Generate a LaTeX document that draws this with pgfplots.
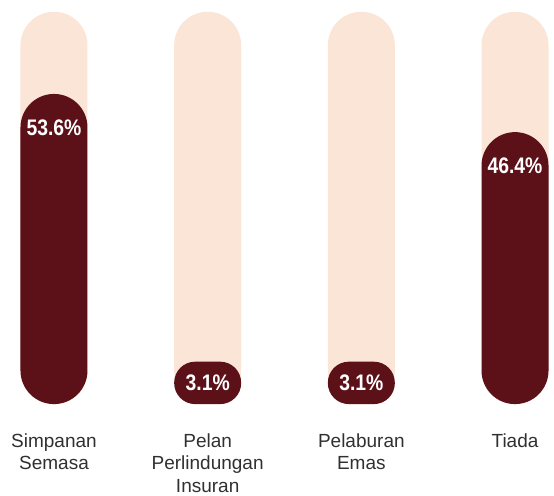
\documentclass[border=0pt]{standalone}
\usepackage{fontspec}
\setmainfont{Liberation Sans}
\newfontfamily\narrowb{Liberation Sans}[FakeStretch=0.86]
\usepackage{pgfplots}
\pgfplotsset{compat=1.18}
\usepackage{pgfplotstable}
\definecolor{peach}{HTML}{FBE5D6}
\definecolor{maroonbar}{HTML}{5C1018}
\definecolor{labgray}{HTML}{303030}
\pgfplotstableread{
x v
0 53.6
3 46.4
}\bigbars
\pgfplotstableread{
x v
1 3.1
2 3.1
}\smallbars
\pgfplotstableread{
x track
0 74
1 74
2 74
3 74
}\tracks
\begin{document}
\begin{tikzpicture}
\begin{axis}[
 scale only axis, width=554pt, height=404pt,
 xmin=-0.3513, xmax=3.2537, ymin=0, ymax=76.2,
 axis line style={draw=none},
 ytick=\empty,
 xtick={0,1,2,3},
 xticklabels={{Simpanan\\Semasa},{Pelan\\Perlindungan\\Insuran},{Pelaburan\\Emas},{Tiada}},
 major tick length=0pt,
 xticklabel style={align=center, font=\fontsize{19}{22.5}\selectfont, text=labgray, anchor=north, inner ysep=3pt, yshift=-26pt},
 ybar, bar width=67pt, bar shift=0pt,
 clip=false,
]
\addplot[fill=peach, draw=none, rounded corners=33.5pt] table[x=x,y=track]{\tracks};
\addplot[fill=maroonbar, draw=none, rounded corners=33.5pt,
 point meta=explicit symbolic, nodes near coords={\pgfplotspointmeta\%},
 every node near coord/.append style={anchor=center, yshift=-34pt, text=white, font=\narrowb\bfseries\fontsize{22.5}{24}\selectfont}]
 table[x=x, y expr=\thisrow{v}+4.9, meta=v]{\bigbars};
\addplot[fill=maroonbar, draw=none, rounded corners=21pt,
 point meta=explicit symbolic, nodes near coords={\pgfplotspointmeta\%},
 every node near coord/.append style={anchor=center, yshift=-21pt, text=white, font=\narrowb\bfseries\fontsize{22.5}{24}\selectfont}]
 table[x=x, y expr=\thisrow{v}+4.9, meta=v]{\smallbars};
\end{axis}
\end{tikzpicture}
\end{document}
